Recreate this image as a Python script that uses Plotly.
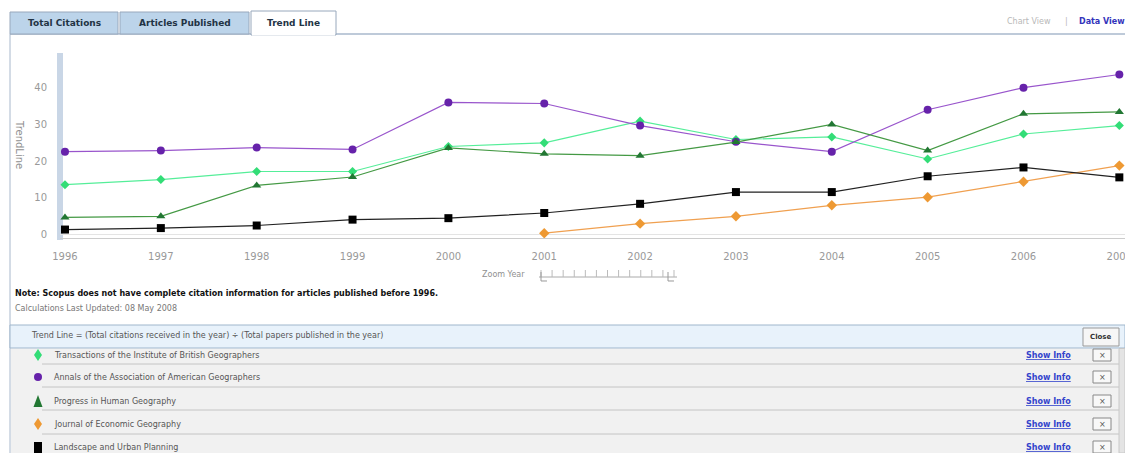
import plotly.graph_objects as go

# ---------------- data ----------------
years = [1996, 1997, 1998, 1999, 2000, 2001, 2002, 2003, 2004, 2005, 2006, 2007]
year_labels = [str(y) for y in years]
transactions_ibg = [13.6, 15.0, 17.2, 17.2, 24.0, 25.0, 30.9, 25.9, 26.6, 20.6, 27.4, 29.7]
annals_aag = [22.6, 22.9, 23.7, 23.2, 36.0, 35.7, 29.7, 25.3, 22.6, 34.0, 40.0, 43.6]
progress_hg = [4.7, 5.0, 13.4, 15.7, 23.6, 22.0, 21.5, 25.2, 30.0, 22.9, 32.9, 33.4]
journal_eg = [None, None, None, None, None, 0.4, 3.0, 5.0, 8.0, 10.2, 14.4, 18.8]
landscape_up = [1.4, 1.8, 2.5, 4.1, 4.5, 5.9, 8.4, 11.6, 11.6, 15.9, 18.3, 15.6]
y_ticks = [0, 10, 20, 30, 40]

series_names = [
    "Transactions of the Institute of British Geographers",
    "Annals of the Association of American Geographers",
    "Progress in Human Geography",
    "Journal of Economic Geography",
    "Landscape and Urban Planning",
]
series_values = [transactions_ibg, annals_aag, progress_hg, journal_eg, landscape_up]
line_colors = ["#55ee99", "#9955cc", "#449944", "#f0a050", "#222222"]
marker_colors = ["#33dd77", "#6622aa", "#227733", "#ee9933", "#000000"]
symbols = ["diamond", "circle", "triangle-up", "diamond", "square"]
marker_sizes = [7, 8, 8, 8, 8]

W, H = 1125, 453
FONT = "DejaVu Sans"


def px(x):
    return x / W


def py(y):
    return 1 - y / H


def note(text, x, y, size=8, color="#555555", xanchor="left", angle=0):
    return dict(text=text, x=px(x), y=py(y), xref="paper", yref="paper",
                xanchor=xanchor, yanchor="middle", textangle=angle, showarrow=False,
                font=dict(family=FONT, size=size, color=color))


fig = go.Figure()
for name, vals, lc, mc, sym, ms in zip(series_names, series_values, line_colors,
                                       marker_colors, symbols, marker_sizes):
    fig.add_trace(go.Scatter(
        x=years, y=vals, name=name, mode="lines+markers",
        line=dict(color=lc, width=1.2),
        marker=dict(color=mc, symbol=sym, size=ms, line=dict(width=0)),
        connectgaps=False, showlegend=False,
    ))

shapes = []
annotations = []

# left blue zoom bar on y axis
shapes.append(dict(type="rect", xref="paper", yref="paper",
                   x0=px(57), x1=px(63), y0=py(240), y1=py(53),
                   fillcolor="#c9d6e6", line=dict(width=0), layer="below"))

# panel left border
shapes.append(dict(type="line", xref="paper", yref="paper",
                   x0=px(10), x1=px(10), y0=py(34), y1=py(453),
                   line=dict(color="#a8b8cc", width=1)))
# top line under tabs
shapes.append(dict(type="line", xref="paper", yref="paper",
                   x0=px(10), x1=px(1125), y0=py(34), y1=py(34),
                   line=dict(color="#a8b8cc", width=1.5)))

# tabs
tabs = [("Total Citations", 10, 118, "#bcd4ea"),
        ("Articles Published", 120, 249, "#bcd4ea"),
        ("Trend Line", 251, 336, "#ffffff")]
for label, x0, x1, fill in tabs:
    active = fill == "#ffffff"
    shapes.append(dict(type="rect", xref="paper", yref="paper",
                       x0=px(x0), x1=px(x1), y0=py(35 if active else 34),
                       y1=py(11 if active else 12),
                       fillcolor=fill, line=dict(color="#98a8bc", width=1)))
    annotations.append(note("<b>%s</b>" % label, (x0 + x1) / 2, 23, size=9,
                            color="#223344", xanchor="center"))
# white cover under active tab
shapes.append(dict(type="line", xref="paper", yref="paper",
                   x0=px(252), x1=px(335), y0=py(34.5), y1=py(34.5),
                   line=dict(color="#ffffff", width=2)))

# Chart View | Data View
annotations.append(note("Chart View", 1029, 21, color="#b8b8b8", xanchor="center"))
annotations.append(note("|", 1066, 21, color="#b8b8b8", xanchor="center"))
annotations.append(note("<b>Data View</b>", 1077, 21, color="#3333bb", xanchor="left"))

# y axis title
annotations.append(note("TrendLine", 20, 144, size=10, color="#909090", xanchor="center", angle=90))

# Zoom year slider
annotations.append(note("Zoom Year", 527, 274, color="#909090", xanchor="right"))
shapes.append(dict(type="line", xref="paper", yref="paper",
                   x0=px(539), x1=px(677), y0=py(277), y1=py(277),
                   line=dict(color="#aaaaaa", width=1)))
for i in range(13):
    tx = 541 + i * (674 - 541) / 12
    shapes.append(dict(type="line", xref="paper", yref="paper",
                       x0=px(tx), x1=px(tx), y0=py(277), y1=py(270),
                       line=dict(color="#bbbbbb", width=1)))
for hx in (541, 668):
    shapes.append(dict(type="path", xref="paper", yref="paper",
                       path="M %f %f L %f %f L %f %f" % (px(hx), py(272), px(hx), py(281), px(hx + 6), py(281)),
                       line=dict(color="#999999", width=1)))

# notes
annotations.append(note("<b>Note: Scopus does not have complete citation information for articles published before 1996.</b>",
                        13, 293, color="#111111"))
annotations.append(note("Calculations Last Updated: 08 May 2008", 13, 308, color="#777777"))

# header bar
shapes.append(dict(type="rect", xref="paper", yref="paper",
                   x0=px(10), x1=px(1125), y0=py(348), y1=py(325),
                   fillcolor="#e8f2fb", line=dict(color="#9fb6cc", width=1)))
annotations.append(note("Trend Line = (Total citations received in the year) ÷ (Total papers published in the year)",
                        29, 335, color="#555555"))
shapes.append(dict(type="rect", xref="paper", yref="paper",
                   x0=px(1083), x1=px(1119), y0=py(346), y1=py(328),
                   fillcolor="#f6f6f6", line=dict(color="#999999", width=1)))
annotations.append(note("<b>Close</b>", 1101, 337, size=7, color="#333333", xanchor="center"))

# legend rows
shapes.append(dict(type="rect", xref="paper", yref="paper",
                   x0=px(11), x1=px(1119), y0=py(453), y1=py(348.5),
                   fillcolor="#f1f1f1", line=dict(width=0), layer="below"))
row_text_y = [355, 377, 401, 424, 447]
for sep in (364, 387, 410, 434):
    shapes.append(dict(type="line", xref="paper", yref="paper",
                       x0=px(42), x1=px(1119), y0=py(sep), y1=py(sep),
                       line=dict(color="#c4c4c4", width=1)))
# scrollbar
shapes.append(dict(type="rect", xref="paper", yref="paper",
                   x0=px(1119), x1=px(1125), y0=py(453), y1=py(348.5),
                   fillcolor="#e4e4e4", line=dict(color="#c8c8c8", width=1)))

for name, ty, mc, sym in zip(series_names, row_text_y, marker_colors, symbols):
    cx, cy = 38, ty
    if sym == "circle":
        shapes.append(dict(type="circle", xref="paper", yref="paper",
                           x0=px(cx - 4), x1=px(cx + 4), y0=py(cy + 4), y1=py(cy - 4),
                           fillcolor=mc, line=dict(width=0)))
    elif sym == "square":
        shapes.append(dict(type="rect", xref="paper", yref="paper",
                           x0=px(cx - 4), x1=px(cx + 4), y0=py(cy + 6), y1=py(cy - 5),
                           fillcolor=mc, line=dict(width=0)))
    elif sym == "triangle-up":
        shapes.append(dict(type="path", xref="paper", yref="paper",
                           path="M %f %f L %f %f L %f %f Z" % (px(cx), py(cy - 6), px(cx - 4.5), py(cy + 6),
                                                               px(cx + 4.5), py(cy + 6)),
                           fillcolor=mc, line=dict(width=0)))
    else:
        shapes.append(dict(type="path", xref="paper", yref="paper",
                           path="M %f %f L %f %f L %f %f L %f %f Z" % (px(cx), py(cy - 6), px(cx + 4), py(cy),
                                                                       px(cx), py(cy + 6), px(cx - 4), py(cy)),
                           fillcolor=mc, line=dict(width=0)))
    annotations.append(note(name, 52, ty, color="#555555"))
    annotations.append(note("<b><u>Show Info</u></b>", 1048, ty, color="#3344cc", xanchor="center"))
    shapes.append(dict(type="rect", xref="paper", yref="paper",
                       x0=px(1093), x1=px(1111), y0=py(ty + 6), y1=py(ty - 6),
                       fillcolor="#f8f8f8", line=dict(color="#888888", width=1)))
    annotations.append(note("×", 1102, ty, color="#555555", xanchor="center"))

fig.update_layout(
    width=W, height=H,
    template="none",
    margin=dict(l=0, r=0, t=0, b=0, pad=0),
    paper_bgcolor="#ffffff", plot_bgcolor="#ffffff",
    showlegend=False,
    xaxis=dict(domain=[px(60), 1.0], range=[1995.948, 2007.059],
               tickvals=years, ticktext=year_labels, showgrid=False, zeroline=False,
               showline=True, linecolor="#cccccc", linewidth=1,
               ticks="outside", ticklen=9, tickcolor="rgba(0,0,0,0)",
               ticklabeloverflow="allow",
               tickfont=dict(family=FONT, size=10, color="#999999"), automargin=False),
    yaxis=dict(domain=[py(238), py(55)], range=[-0.9, 48.9],
               tickvals=y_ticks, ticktext=[str(v) for v in y_ticks],
               showgrid=False, zeroline=True, zerolinecolor="#e4e4e4", zerolinewidth=1,
               showline=False, ticks="outside", ticklen=10, tickcolor="rgba(0,0,0,0)",
               tickfont=dict(family=FONT, size=10, color="#999999"), automargin=False),
    shapes=shapes,
    annotations=annotations,
)

fig.write_html("out.html")
